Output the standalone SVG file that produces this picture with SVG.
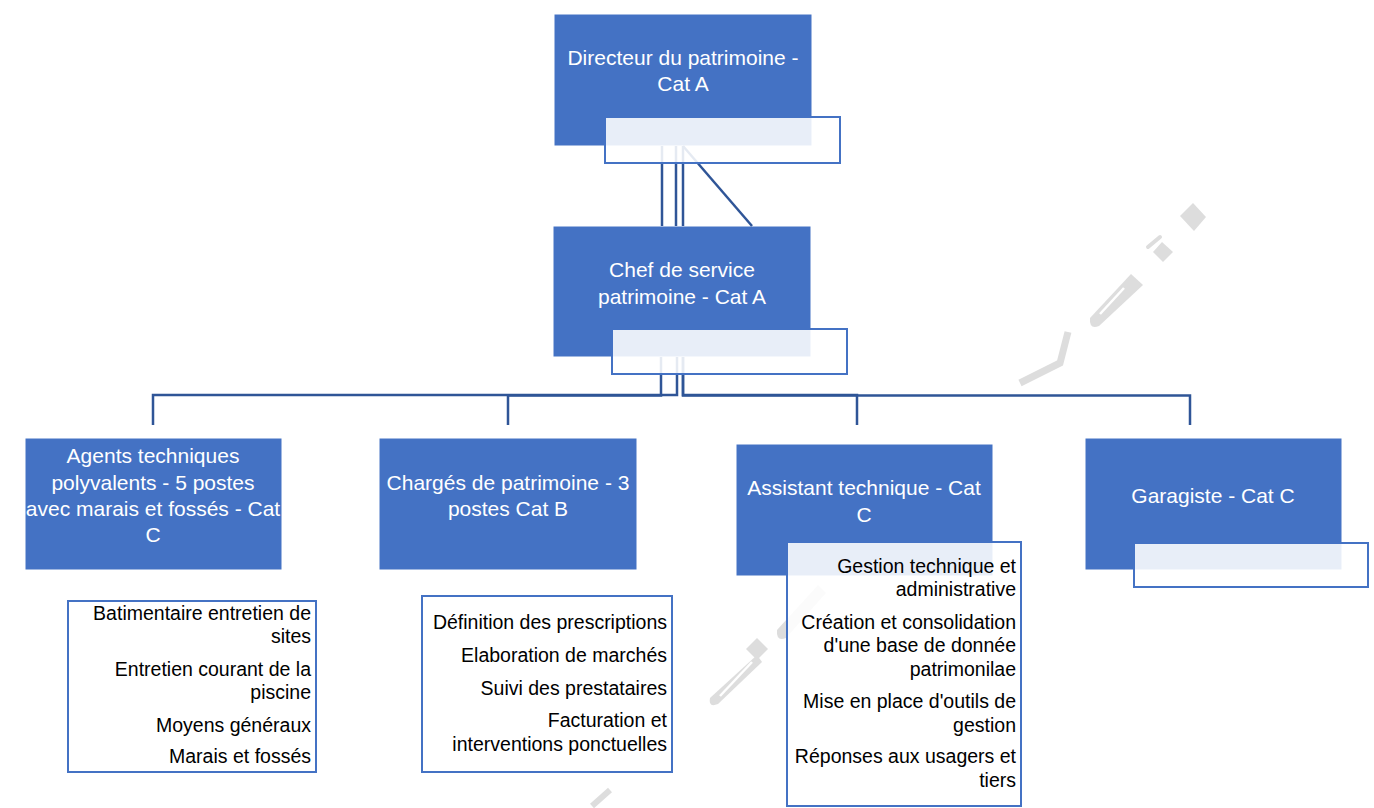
<svg xmlns="http://www.w3.org/2000/svg" width="1374" height="808" viewBox="0 0 1374 808">
<style>
.box{fill:#4472C4;stroke:#ffffff;stroke-width:1}
.ov{fill:#ffffff;fill-opacity:0.88;stroke:#4472C4;stroke-width:2}
.lst{fill:#ffffff;stroke:#4472C4;stroke-width:2}
.t{font-family:"Liberation Sans",Arial,sans-serif;font-size:21px;fill:#ffffff;text-anchor:middle}
.l{font-family:"Liberation Sans",Arial,sans-serif;font-size:19.5px;fill:#000000;text-anchor:end}
.c{fill:none;stroke:#2F5597;stroke-width:2.5}
.wm{fill:#DDDDDD}
.wms{fill:none;stroke:#DDDDDD}
</style>
<rect width="1374" height="808" fill="#ffffff"/>
<g id="watermark">
<polygon class="wm" points="1193,203 1206,217 1194,231 1180,216"/>
<polygon class="wm" points="1162,242 1173,252 1163,262 1153,252"/>
<line class="wms" x1="1148" y1="247" x2="1160" y2="237" stroke-width="4" stroke-linecap="round"/>
<path class="wm" d="M1131,274 L1143,285 L1099,326 Q1089,330 1090,318 Z"/>
<line x1="1124" y1="288" x2="1100" y2="314" stroke="#ffffff" stroke-width="2.5"/>
<polyline class="wms" points="1068,332 1060,363 1020,383" stroke-width="7"/>
<path class="wm" d="M818,585 L826,593 L786,638 Q776,642 777,630 Z"/>
<polygon class="wm" points="757,638 768,649 757,660 746,649"/>
<path class="wm" d="M757,655 L762,662 L718,704 Q708,708 710,698 Z"/>
<line x1="752" y1="662" x2="720" y2="696" stroke="#ffffff" stroke-width="2.5"/>
<polygon class="wm" points="650,748 662,760 650,772 638,760"/>
<line class="wms" x1="592" y1="806" x2="610" y2="790" stroke-width="6"/>
</g>
<g id="node-directeur">
<rect class="box" x="554" y="14" width="258" height="132"/>
<text class="t" x="683" y="65">Directeur du patrimoine -</text>
<text class="t" x="683" y="91">Cat A</text>
</g>
<g id="node-chef">
<rect class="box" x="553" y="226" width="258" height="131"/>
<text class="t" x="682" y="277">Chef de service</text>
<text class="t" x="682" y="304">patrimoine - Cat A</text>
</g>
<g id="node-agents">
<rect class="box" x="25" y="438" width="257" height="132"/>
<text class="t" x="153" y="463">Agents techniques</text>
<text class="t" x="153" y="490">polyvalents - 5 postes</text>
<text class="t" x="153" y="516">avec marais et fossés - Cat</text>
<text class="t" x="153" y="542">C</text>
</g>
<g id="node-charges">
<rect class="box" x="379" y="438" width="258" height="132"/>
<text class="t" x="508" y="490">Chargés de patrimoine - 3</text>
<text class="t" x="508" y="516">postes Cat B</text>
</g>
<g id="node-assistant">
<rect class="box" x="736" y="444" width="257" height="132"/>
<text class="t" x="864" y="495">Assistant technique - Cat</text>
<text class="t" x="864" y="522">C</text>
</g>
<g id="node-garagiste">
<rect class="box" x="1085" y="438" width="257" height="132"/>
<text class="t" x="1213" y="503">Garagiste - Cat C</text>
</g>
<g id="connectors">
<path class="c" d="M662,146 V226"/>
<path class="c" d="M676,146 V226"/>
<path class="c" d="M683,146 V226"/>
<path class="c" d="M683,146 L752,226"/>
<path class="c" d="M677,357 V395 H153 V425"/>
<path class="c" d="M661,357 V395.5 H508 V425"/>
<path class="c" d="M683,357 V395 H857 V425"/>
<path class="c" d="M683,357 V395.5 H1190 V425"/>
</g>
<g id="overlay-directeur">
<rect class="ov" x="605" y="117" width="235" height="46"/>
</g>
<g id="overlay-chef">
<rect class="ov" x="612" y="329" width="235" height="45"/>
</g>
<g id="overlay-garagiste">
<rect class="ov" x="1134" y="543" width="234" height="44"/>
</g>
<g id="list-agents">
<rect class="lst" x="68" y="601" width="248" height="171"/>
<text class="l" x="311" y="620">Batimentaire entretien de</text>
<text class="l" x="311" y="643">sites</text>
<text class="l" x="311" y="676">Entretien courant de la</text>
<text class="l" x="311" y="699">piscine</text>
<text class="l" x="311" y="732">Moyens généraux</text>
<text class="l" x="311" y="763">Marais et fossés</text>
</g>
<g id="list-charges">
<rect class="lst" x="422" y="596" width="250" height="176"/>
<text class="l" x="667" y="629">Définition des prescriptions</text>
<text class="l" x="667" y="662">Elaboration de marchés</text>
<text class="l" x="667" y="695">Suivi des prestataires</text>
<text class="l" x="667" y="727">Facturation et</text>
<text class="l" x="667" y="751">interventions ponctuelles</text>
</g>
<g id="list-assistant">
<rect class="ov" x="787" y="542" width="234" height="264"/>
<text class="l" x="1016" y="573">Gestion technique et</text>
<text class="l" x="1016" y="596">administrative</text>
<text class="l" x="1016" y="629">Création et consolidation</text>
<text class="l" x="1016" y="652">d'une base de donnée</text>
<text class="l" x="1016" y="676">patrimonilae</text>
<text class="l" x="1016" y="708">Mise en place d'outils de</text>
<text class="l" x="1016" y="732">gestion</text>
<text class="l" x="1016" y="763">Réponses aux usagers et</text>
<text class="l" x="1016" y="787">tiers</text>
</g>
</svg>
